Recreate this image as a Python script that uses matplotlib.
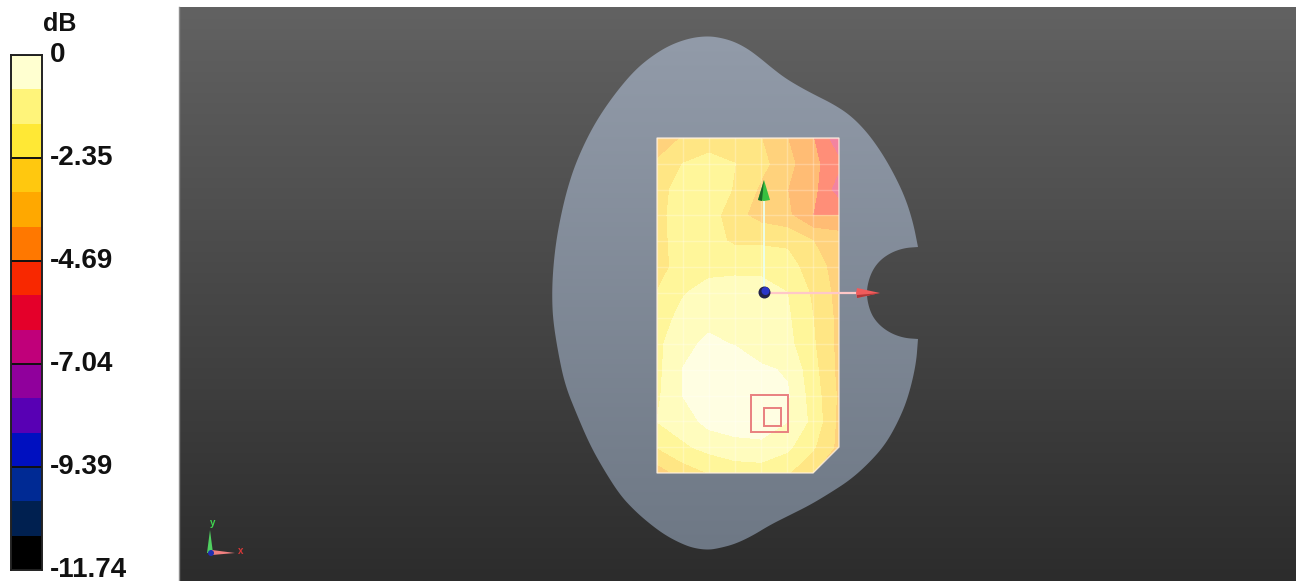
"""
Mapa de pérdida en dB sobre el contorno del teléfono, con escala de colores
"""

import numpy as np
import matplotlib
matplotlib.use('Agg')
import matplotlib.pyplot as plt
from matplotlib.patches import Polygon, Circle, Rectangle

W, H = 1296, 581

# Escala de colores
DB_MIN = -11.74
TICK_VALUES = [0, -2.35, -4.69, -7.04, -9.39, -11.74]
TICK_LABELS = ['0', '-2.35', '-4.69', '-7.04', '-9.39', '-11.74']
BAR_COLORS = ['#ffffd0', '#fff47a', '#ffe835', '#ffc80f', '#ffa800', '#ff7800', '#f82800', '#e4002a',
              '#c0007a', '#90009c', '#5800b4', '#0010c0', '#002a94', '#002050', '#000000']
# Los mismos colores con transparencia sobre el modelo (solo las 8 bandas superiores aparecen)
FIELD_COLORS = ['#fffee2', '#fffcbe', '#fff69a', '#ffe684', '#ffd27c', '#ffbc74', '#ff8e78', '#f384a0']

# Medida en dB, 14 filas (de arriba a abajo) por 8 columnas
FIELD_DB = [
    [-3.60, -3.09, -2.82, -2.90, -3.13, -3.91, -4.70, -6.10],
    [-3.05, -2.35, -2.04, -2.35, -2.90, -3.68, -4.50, -5.32],
    [-2.74, -1.96, -1.88, -2.43, -3.29, -3.91, -4.46, -6.00],
    [-2.66, -1.88, -1.96, -2.90, -3.44, -3.76, -4.74, -4.74],
    [-2.66, -1.96, -2.11, -2.47, -2.47, -2.50, -3.13, -3.44],
    [-2.74, -1.96, -1.84, -1.84, -1.84, -2.04, -2.74, -3.52],
    [-2.35, -1.64, -1.25, -1.10, -1.17, -1.57, -2.50, -3.44],
    [-1.96, -1.33, -0.94, -1.06, -1.17, -1.45, -2.35, -3.37],
    [-1.80, -0.94, -0.67, -0.82, -1.17, -1.33, -2.27, -3.37],
    [-1.80, -0.77, -0.43, -0.39, -0.67, -0.86, -2.11, -3.37],
    [-1.72, -0.78, -0.31, -0.27, -0.39, -0.70, -1.96, -3.29],
    [-1.57, -1.17, -0.55, -0.47, -0.47, -0.78, -1.80, -3.37],
    [-2.35, -1.72, -1.33, -1.02, -0.94, -1.41, -2.27, -3.37],
    [-3.60, -2.82, -2.35, -2.11, -2.04, -2.27, -3.13, -3.76],
]

# Contorno del teléfono en píxeles: el cuerpo y la muesca, por separado para conservar las esquinas
BODY = [
    (918, 339), (916, 365), (908, 398), (898, 422), (885, 445), (868, 464), (850, 480),
    (830, 493), (810, 505), (790, 515), (770, 525), (752, 536), (735, 544), (720, 548), (708, 550),
    (693, 548), (680, 543), (665, 535), (650, 524), (635, 511), (620, 495), (604, 470), (590, 445),
    (577, 415), (565, 385), (558, 352), (553, 320), (552, 295), (553, 270), (556, 242), (561, 215),
    (567, 190), (575, 165), (587, 138), (600, 115), (617, 91), (635, 70), (652, 56), (670, 45), (690, 38),
    (708, 36), (722, 38), (735, 42), (748, 49), (760, 58), (772, 68), (785, 78), (800, 87), (815, 95),
    (833, 104), (850, 115), (866, 131), (880, 150), (893, 172), (905, 197), (913, 222), (918, 247),
]
NOTCH = [
    (918, 247), (904, 248), (890, 253), (878, 262), (870, 275), (866, 293), (870, 312), (878, 324), (890, 333),
    (904, 338), (918, 339),
]
BOARD = [(657, 138), (839, 138), (839, 447), (813, 473), (657, 473)]


def suavizar(puntos, pasadas=3):
    """Redondea una polilínea abierta cortando esquinas, sin mover los extremos"""
    p = np.array(puntos, dtype=float)
    for _ in range(pasadas):
        q = 0.75 * p[:-1] + 0.25 * p[1:]
        r = 0.25 * p[:-1] + 0.75 * p[1:]
        medio = np.empty((2 * len(q), 2))
        medio[0::2] = q
        medio[1::2] = r
        p = np.vstack([p[0], medio, p[-1]])
    return p


def fondo(ax, extent, top, bottom, clip=None):
    """Pinta un degradado vertical dentro de extent"""
    grad = np.linspace(0, 1, 256)[:, None, None]
    img = (1 - grad) * np.array(matplotlib.colors.to_rgb(top)) + grad * np.array(matplotlib.colors.to_rgb(bottom))
    im = ax.imshow(img, extent=extent, aspect='auto', interpolation='bilinear', zorder=1)
    if clip is not None:
        ax.add_patch(clip)
        im.set_clip_path(clip)
    return im


fig = plt.figure(figsize=(W / 100, H / 100), dpi=100, facecolor='white')
plt.rcParams['font.family'] = ['Liberation Sans', 'DejaVu Sans']

# Vista 3D en coordenadas de píxel
ax = fig.add_axes([0, 0, 1, 1])
ax.axis('off')

fondo(ax, (179, W, H, 7), '#626262', '#2c2c2c')
ax.plot([179, 179], [7, H], color='#8c8c8c', lw=1, zorder=2)

outline = np.vstack([suavizar(BODY), suavizar(NOTCH)])
phone = Polygon(outline, closed=True, facecolor='none', edgecolor='none', zorder=3)
fondo(ax, (540, 930, 550, 36), '#929ba9', '#6e7885', clip=phone).set_zorder(3)

# Mapa de contornos
xs = np.linspace(657, 839, 8)
ys = np.linspace(138, 473, 14)
levels = np.linspace(DB_MIN, 0, 16)[7:]
field = np.array(FIELD_DB)
cs = ax.contourf(xs, ys, field, levels=levels, colors=FIELD_COLORS[::-1], zorder=4)
cs.set_edgecolor('face')
cs.set_linewidth(0.6)
board = Polygon(BOARD, closed=True, facecolor='none', edgecolor='none', transform=ax.transData)
ax.add_patch(board)
cs.set_clip_path(board)

# Rejilla y borde de la placa
for x in xs:
    ax.plot([x, x], [138, 473], color='white', lw=1, alpha=0.25, zorder=5)[0].set_clip_path(board)
for y in ys:
    ax.plot([657, 839], [y, y], color='white', lw=1, alpha=0.25, zorder=5)[0].set_clip_path(board)
ax.add_patch(Polygon(BOARD, closed=True, facecolor='none', edgecolor='#fff0e0', lw=1.0, alpha=0.8, zorder=5))

# Cuadrados rojos
ax.add_patch(Rectangle((751, 395), 37, 37, fill=False, edgecolor='#e98080', lw=1.4, zorder=6))
ax.add_patch(Rectangle((764, 408), 17, 18, fill=False, edgecolor='#e98080', lw=1.4, zorder=6))

# Ejes locales
ax.plot([764, 764], [293, 200], color='#eafff0', lw=1.3, zorder=7)
ax.plot([770, 858], [293, 293], color='#ffc8c8', lw=1.6, zorder=7)
ax.add_patch(Polygon([(764, 180), (758, 200), (764, 201), (770, 200)], closed=True, facecolor='#38c040',
                     edgecolor='none', zorder=8))
ax.add_patch(Polygon([(764, 180), (758, 200), (762, 201)], closed=True, facecolor='#1c6a28', edgecolor='none', zorder=8))
ax.add_patch(Polygon([(857, 288), (880, 293), (857, 298), (856, 293)], closed=True, facecolor='#f05c5c',
                     edgecolor='none', zorder=8))
ax.add_patch(Polygon([(857, 295), (880, 293), (857, 298)], closed=True, facecolor='#b03838', edgecolor='none', zorder=8))
ax.add_patch(Circle((764.5, 292.5), 6, facecolor='#22224a', edgecolor='none', zorder=9))
ax.add_patch(Circle((765.5, 291), 4, facecolor='#2a35c8', edgecolor='none', zorder=9))

# Triedro de la esquina
ax.add_patch(Polygon([(210, 530), (207, 553), (213, 553)], closed=True, facecolor='#50d060', edgecolor='none', zorder=7))
ax.add_patch(Polygon([(212, 550), (235, 553), (212, 555)], closed=True, facecolor='#f08080', edgecolor='none', zorder=7))
ax.add_patch(Circle((211, 553), 3, facecolor='#2030b0', edgecolor='none', zorder=8))
ax.text(213, 523.5, 'y', color='#40d850', fontsize=7, fontweight='bold', ha='center', va='center', zorder=8)
ax.text(241, 551, 'x', color='#d83838', fontsize=7, fontweight='bold', ha='center', va='center', zorder=8)

ax.set_xlim(0, W)
ax.set_ylim(H, 0)

# Barra de colores
cax = fig.add_axes([11 / W, (H - 570) / H, 31 / W, 515 / H])
bands = np.linspace(DB_MIN, 0, 16)
cax.bar(0, bands[1:] - bands[:-1], bottom=bands[:-1], width=1, color=BAR_COLORS[::-1], align='center')
cax.set_xlim(-0.5, 0.5)
cax.set_ylim(DB_MIN, 0)
cax.set_xticks([])
cax.set_yticks(TICK_VALUES)
cax.set_yticklabels([])
cax.tick_params(axis='y', length=0)
cax.yaxis.tick_right()
for v, lab in zip(TICK_VALUES, TICK_LABELS):
    cax.axhline(v, color='#111111', lw=1.4)
    cax.annotate(lab, (1, v), xycoords=('axes fraction', 'data'), xytext=(8, 0), textcoords='offset pixels',
                 ha='left', va='center', fontsize=20, fontweight='bold', color='#111111', annotation_clip=False)
for s in cax.spines.values():
    s.set_color('#222222')
    s.set_linewidth(1.4)
ax.text(60, 24, 'dB', fontsize=18, fontweight='bold', color='#111111', ha='center', va='center', zorder=10,
        clip_on=False)

fig.savefig('out.png', dpi=100)
